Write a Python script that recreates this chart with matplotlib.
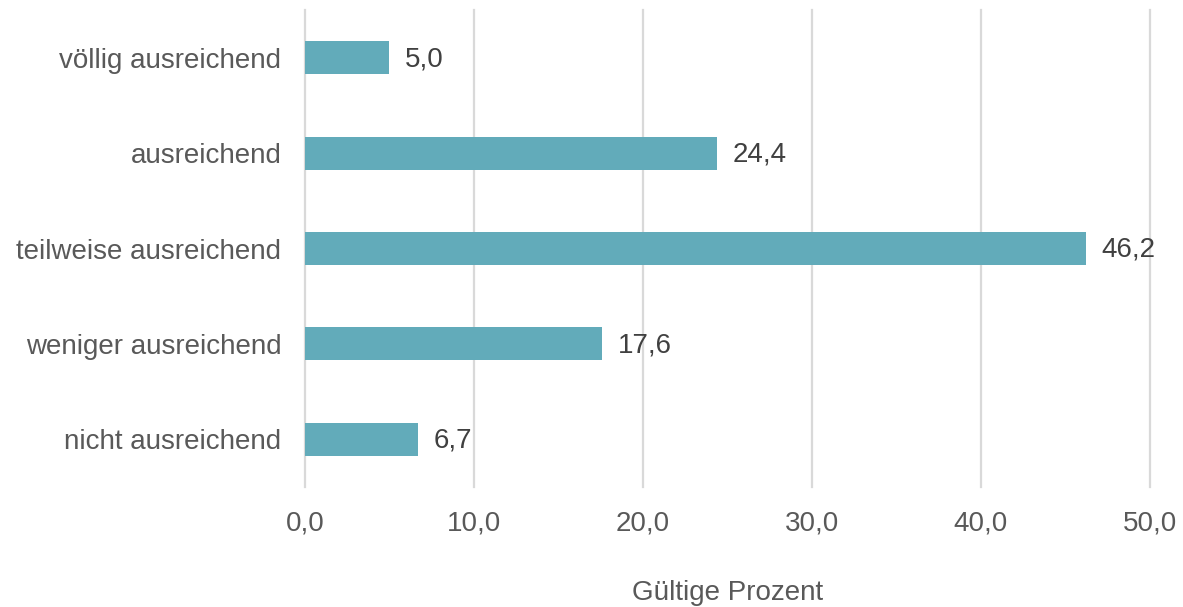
import matplotlib.pyplot as plt

# Antworten von unten nach oben
categories = ['nicht ausreichend', 'weniger ausreichend', 'teilweise ausreichend',
              'ausreichend', 'völlig ausreichend']
values = [6.7, 17.6, 46.2, 24.4, 5.0]
xticks = [0, 10, 20, 30, 40, 50]

plt.rcParams['font.family'] = ['Liberation Sans', 'DejaVu Sans']
fs = 20

fig = plt.figure(figsize=(11.83, 6.07), dpi=100)
ax = fig.add_axes([0.2578, 0.1977, 0.9721 - 0.2578, 0.9835 - 0.1977])

bars = ax.barh(range(len(categories)), values, height=0.345, color='#62abba', zorder=3)

ax.set_xlim(0, 50)
ax.set_ylim(-0.5, len(categories) - 0.5)
ax.set_xticks(xticks)
ax.set_xticklabels([f'{t:.1f}'.replace('.', ',') for t in xticks])
ax.set_yticks(range(len(categories)))
ax.set_yticklabels(categories)

ax.grid(axis='x', color='#d9d9d9', linewidth=1.6, zorder=0)
for line in ax.get_xgridlines():
    line.set_clip_on(False)
for s in ax.spines.values():
    s.set_visible(False)
ax.tick_params(axis='both', length=0, labelsize=fs, labelcolor='#595959')
ax.tick_params(axis='y', pad=17)
ax.tick_params(axis='x', pad=17)

# Werte an die Balken schreiben
for i, v in enumerate(values):
    ax.annotate(f'{v:.1f}'.replace('.', ','), (v, i), xytext=(11, -1),
                textcoords='offset points', va='center', ha='left',
                fontsize=fs, color='#404040', annotation_clip=False)

ax.set_xlabel('Gültige Prozent', fontsize=fs, color='#595959', labelpad=31)

fig.savefig('out.png', dpi=100)
